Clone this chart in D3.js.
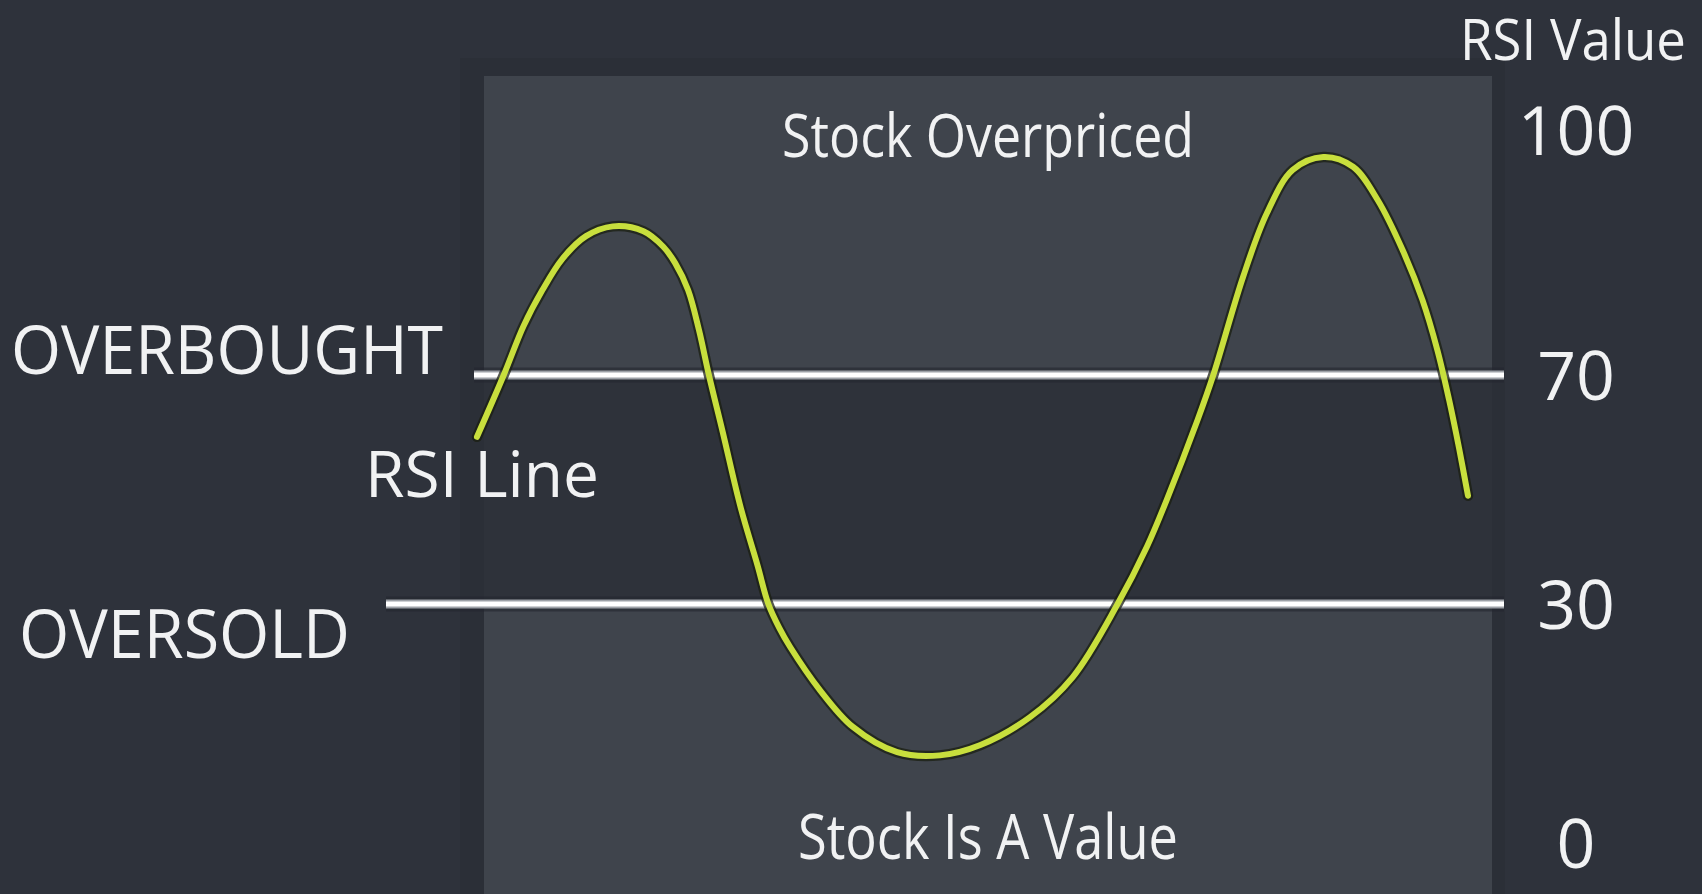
<!DOCTYPE html>
<html>
<head>
<meta charset="utf-8">
<script src="https://cdn.jsdelivr.net/npm/d3@7"></script>
<style>
    html, body { margin: 0; padding: 0; background: #2e323b; }
    svg { display: block; }
    text { font-family: "Open Sans", sans-serif; fill: #f1f2f3; }
</style>
</head>
<body>
<svg id="chart"></svg>
<script>
var width = 1702;
var height = 894;

// RSI readings along the time axis (0 = first bar, 100 = last bar)
var period = [0, 2.7, 4.7, 6.6, 8.6, 11.0, 13.7, 16.8, 18.8, 20.0,
    21.3, 22.4, 23.4, 24.8, 26.6, 28.3, 29.4, 30.5, 31.6, 34.6,
    37.9, 42.4, 46.7, 50.8, 55.8, 60.1, 64.6, 67.6, 69.6, 72.7,
    74.3, 77.3, 79.7, 82.3, 85.4, 88.4, 90.9, 93.4, 95.4, 96.9,
    98.1, 99.1, 100];
var rsi = [59.2, 70, 76.0, 80.4, 84.2, 87.0, 88.2, 87.6, 85.7, 83.7,
    80.4, 75.5, 70, 60.0, 46.9, 36.8, 30, 27.0, 24.6, 19.2,
    14.6, 11.4, 11.0, 12.3, 15.8, 20.8, 29.9, 40.0, 48.2, 62.1,
    70, 82.0, 89.8, 95.1, 96.7, 95.5, 91.4, 85.3, 79.2, 73.1,
    65.6, 57.2, 48.9];

// Threshold levels and axis ticks
var overbought = 70;
var oversold = 30;
var tickValues = [0, 30, 70, 100];

// Texts
var axisTitle = "RSI Value";
var zoneLabels = ["Stock Overpriced", "Stock Is A Value"];
var levelLabels = ["OVERBOUGHT", "OVERSOLD"];
var lineLabel = "RSI Line";

var svg = d3.select("#chart")
    .attr("width", width)
    .attr("height", height);

// X scale (time), Y scale (RSI, drawn schematically per zone)
var x = d3.scaleLinear()
    .domain([0, 100])
    .range([477, 1468]);

var y = d3.scaleLinear()
    .domain([0, oversold, overbought, 100])
    .range([843, 604, 375, 130]);

// Panel with its shadow
var panelLeft = 484, panelRight = 1492, panelTop = 76;

svg.append("rect")
    .attr("x", panelLeft - 24)
    .attr("y", panelTop - 18)
    .attr("width", panelRight - panelLeft + 37)
    .attr("height", height)
    .style("fill", "#2b2f37");

svg.append("rect")
    .attr("x", panelLeft)
    .attr("y", panelTop)
    .attr("width", panelRight - panelLeft)
    .attr("height", height - panelTop)
    .style("fill", "#3f444c");

// Neutral band between oversold and overbought
svg.append("rect")
    .attr("x", panelLeft)
    .attr("y", y(overbought))
    .attr("width", panelRight - panelLeft)
    .attr("height", y(oversold) - y(overbought))
    .style("fill", "#2e323a");

// Level lines
var levelStart = { 70: 474, 30: 386 };
var levelEnd = 1504;

[overbought, oversold].forEach(function (v) {
    var g = svg.append("g").attr("class", "level");
    [["#23272e", 15, 0.6], ["#9da1a7", 9, 1], ["#ffffff", 5, 1]].forEach(function (s) {
        g.append("line")
            .attr("x1", levelStart[v])
            .attr("x2", levelEnd)
            .attr("y1", y(v))
            .attr("y2", y(v))
            .style("stroke", s[0])
            .style("stroke-width", s[1])
            .style("stroke-opacity", s[2]);
    });
});

// RSI line
var points = period.map(function (t, i) { return [t, rsi[i]]; });

var line = d3.line()
    .x(function (d) { return x(d[0]); })
    .y(function (d) { return y(d[1]); })
    .curve(d3.curveCatmullRom.alpha(0.5));

svg.append("path")
    .datum(points)
    .attr("d", line)
    .style("fill", "none")
    .style("stroke", "#1b1f12")
    .style("stroke-width", 10.5)
    .style("stroke-opacity", 0.75)
    .style("stroke-linecap", "round");

svg.append("path")
    .datum(points)
    .attr("d", line)
    .style("fill", "none")
    .style("stroke", "#c8df3d")
    .style("stroke-width", 6)
    .style("stroke-linecap", "round");

// Right axis
var axis = svg.append("g")
    .attr("class", "y-axis")
    .attr("transform", "translate(1576,0)")
    .call(d3.axisRight(y).tickValues(tickValues).tickSize(0).tickPadding(0));

axis.select(".domain").remove();
axis.selectAll("text")
    .attr("x", 0)
    .attr("dy", "0.36em")
    .style("text-anchor", "middle")
    .style("font-family", "'Open Sans', sans-serif")
    .style("font-size", "68px")
    .style("fill", "#f1f2f3");

// Labels
function label(txt, px, py, size, len, anchor) {
    svg.append("text")
        .attr("x", px)
        .attr("y", py)
        .attr("textLength", len)
        .attr("lengthAdjust", "spacingAndGlyphs")
        .style("font-size", size + "px")
        .style("text-anchor", anchor)
        .text(txt);
}

label(axisTitle, 1686, 60, 56, 226, "end");
label(zoneLabels[0], 988, 157, 61, 412, "middle");
label(zoneLabels[1], 988, 859, 62, 380, "middle");
label(levelLabels[0], 11, 374, 68, 432, "start");
label(levelLabels[1], 19, 658, 68, 331, "start");
label(lineLabel, 365, 497, 64, 234, "start");
</script>
</body>
</html>
